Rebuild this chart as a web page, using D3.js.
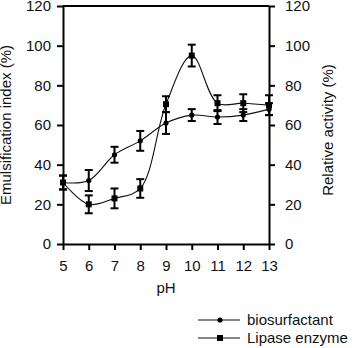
<!DOCTYPE html>
<html>
<head>
<meta charset="utf-8">
<script src="https://cdn.jsdelivr.net/npm/d3@7"></script>
<style>
  body { margin: 0; background: #fff; }
  text { font-family: "Liberation Sans", Arial, sans-serif; fill: #111; }
</style>
</head>
<body>
<script>
// ---- data ----
const phValues = [5, 6, 7, 8, 9, 10, 11, 12, 13];
const bioMean = [31, 32, 45, 52, 61, 65, 64, 65, 68];     // emulsification index (%)
const bioErr  = [3.5, 5.3, 4, 5, 5.5, 3, 3.5, 3, 3];
const lipMean = [31, 20, 23, 28, 70.5, 95, 71, 71, 70];   // relative activity (%)
const lipErr  = [3.5, 4.5, 5, 4.7, 4, 5.5, 4, 4.5, 5];
const yTicks = [0, 20, 40, 60, 80, 100, 120];
const seriesNames = ["biosurfactant", "Lipase enzyme"];

const W = 356, H = 348;
const plot = {left: 63, right: 269, top: 6, bottom: 244};

const svg = d3.select("body").append("svg")
    .attr("width", W).attr("height", H);

const x = d3.scaleLinear().domain([5, 13]).range([plot.left, plot.right]);
const y = d3.scaleLinear().domain([0, 120]).range([plot.bottom, plot.top]);

// frame top line
svg.append("line")
    .attr("x1", plot.left).attr("x2", plot.right)
    .attr("y1", plot.top).attr("y2", plot.top)
    .attr("stroke", "#000").attr("stroke-width", 2);

// axes
function styleAxis(g) {
    g.select(".domain").attr("stroke", "#000").attr("stroke-width", 2);
    g.selectAll(".tick line").attr("stroke", "#000").attr("stroke-width", 2);
    g.selectAll(".tick text").attr("fill", "#111")
        .style("font-family", "Liberation Sans, Arial, sans-serif")
        .style("font-size", "15px");
}

svg.append("g")
    .attr("transform", `translate(0,${plot.bottom})`)
    .call(d3.axisBottom(x).tickValues(phValues).tickFormat(d3.format("d"))
        .tickSizeInner(6).tickSizeOuter(0).tickPadding(10))
    .call(styleAxis);

svg.append("g")
    .attr("transform", `translate(${plot.left},0)`)
    .call(d3.axisLeft(y).tickValues(yTicks).tickSizeInner(6).tickSizeOuter(0).tickPadding(6))
    .call(styleAxis);

svg.append("g")
    .attr("transform", `translate(${plot.right},0)`)
    .call(d3.axisRight(y).tickValues(yTicks).tickSizeInner(6).tickSizeOuter(0).tickPadding(10))
    .call(styleAxis);

// axis titles
svg.append("text")
    .attr("transform", `translate(11,${(plot.top + plot.bottom) / 2}) rotate(-90)`)
    .attr("text-anchor", "middle")
    .style("font-size", "15px")
    .text("Emulsification index (%)");

svg.append("text")
    .attr("transform", `translate(333,${(plot.top + plot.bottom) / 2 + 5}) rotate(-90)`)
    .attr("text-anchor", "middle")
    .style("font-size", "15px")
    .text("Relative activity (%)");

svg.append("text")
    .attr("x", 166).attr("y", 293)
    .attr("text-anchor", "middle")
    .style("font-size", "15px")
    .text("pH");

// series
const line = d3.line()
    .x(d => x(d.ph)).y(d => y(d.v))
    .curve(d3.curveCatmullRom.alpha(0.5));

function drawSeries(means, errs, marker) {
    const pts = phValues.map((ph, i) => ({ph: ph, v: means[i], e: errs[i]}));
    svg.append("path")
        .datum(pts)
        .attr("d", line)
        .attr("fill", "none")
        .attr("stroke", "#111")
        .attr("stroke-width", 1.1);

    const eb = svg.append("g");
    pts.forEach(p => {
        const cx = x(p.ph), y1 = y(p.v + p.e), y2 = y(p.v - p.e);
        eb.append("line").attr("x1", cx).attr("x2", cx).attr("y1", y1).attr("y2", y2)
            .attr("stroke", "#000").attr("stroke-width", 2);
        [y1, y2].forEach(yy => eb.append("line")
            .attr("x1", cx - 4).attr("x2", cx + 4).attr("y1", yy).attr("y2", yy)
            .attr("stroke", "#000").attr("stroke-width", 2));
    });
    pts.forEach(p => marker(svg, x(p.ph), y(p.v)));
}

function circleMarker(g, cx, cy) {
    g.append("circle").attr("cx", cx).attr("cy", cy).attr("r", 2.6).attr("fill", "#000");
}
function squareMarker(g, cx, cy) {
    g.append("rect").attr("x", cx - 3).attr("y", cy - 3).attr("width", 6).attr("height", 6).attr("fill", "#000");
}

drawSeries(bioMean, bioErr, circleMarker);
drawSeries(lipMean, lipErr, squareMarker);

// legend
const legend = svg.append("g");
const markers = [circleMarker, squareMarker];
seriesNames.forEach((name, i) => {
    const ly = 320 + i * 18;
    legend.append("line").attr("x1", 198).attr("x2", 240).attr("y1", ly).attr("y2", ly)
        .attr("stroke", "#111").attr("stroke-width", 1.1);
    markers[i](legend, 220, ly);
    legend.append("text").attr("x", 247).attr("y", ly + 5)
        .style("font-size", "15px")
        .text(name);
});
</script>
</body>
</html>
